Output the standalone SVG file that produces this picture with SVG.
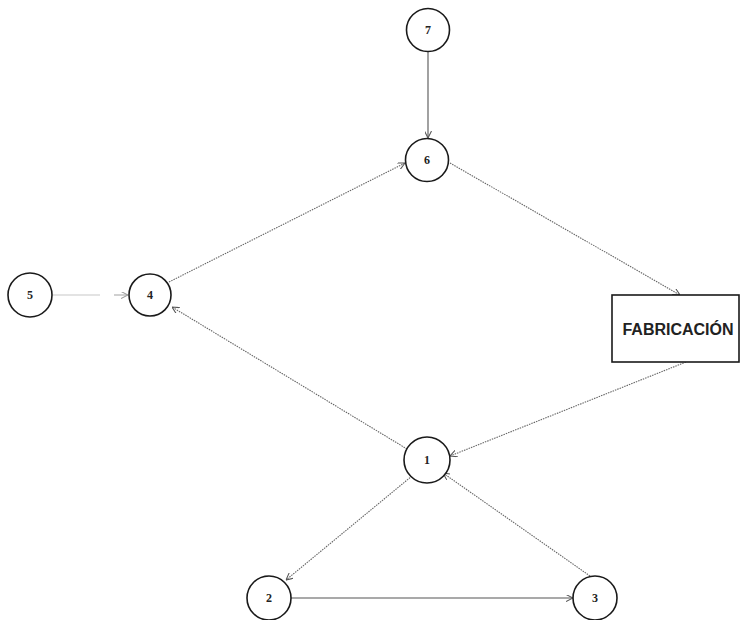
<svg xmlns="http://www.w3.org/2000/svg" width="741" height="620" viewBox="0 0 741 620">
<style>
.node circle{fill:#fff;stroke:#1a1a1a;stroke-width:1.6}
.node text{font-family:"Liberation Serif",serif;font-weight:bold;font-size:12px;fill:#222;text-anchor:middle;dominant-baseline:central}
.box rect{fill:#fff;stroke:#1a1a1a;stroke-width:1.6}
.box text{font-family:"Liberation Sans",Arial,sans-serif;font-weight:bold;font-size:16px;fill:#222;text-anchor:middle;dominant-baseline:central}
.solid{stroke:#555;stroke-width:1.1;fill:none;marker-end:url(#arr)}
.dot{stroke:#666;stroke-width:1.1;stroke-dasharray:1.5 1;fill:none;marker-end:url(#arr)}
.light{stroke:#c8c8c8;stroke-width:1.2;fill:none}
</style>
<defs>
<marker id="arr" viewBox="0 0 10 10" refX="10" refY="5" markerWidth="7" markerHeight="7" markerUnits="userSpaceOnUse" orient="auto">
<path d="M0,0 L10,5 L0,10" fill="none" stroke="#555" stroke-width="1.5"/>
</marker>
<marker id="arrl" viewBox="0 0 10 10" refX="10" refY="5" markerWidth="7" markerHeight="7" markerUnits="userSpaceOnUse" orient="auto">
<path d="M0,0 L10,5 L0,10" fill="none" stroke="#999" stroke-width="1.5"/>
</marker>
</defs>
<rect width="741" height="620" fill="#fff"/>
<g id="connectors">
<line class="solid" x1="428" y1="52" x2="428" y2="138"/>
<line class="dot" x1="450" y1="163" x2="680" y2="295"/>
<line class="dot" x1="686" y1="362" x2="450" y2="456"/>
<line class="dot" x1="407" y1="449" x2="172" y2="307"/>
<line class="dot" x1="169" y1="282" x2="405" y2="163"/>
<line class="light" x1="53" y1="295" x2="100" y2="295"/>
<line stroke="#aaa" stroke-width="1.1" x1="114" y1="295" x2="128" y2="295" marker-end="url(#arrl)"/>
<line class="dot" x1="412" y1="476" x2="286" y2="580"/>
<line class="solid" x1="291" y1="598" x2="573" y2="598"/>
<line class="dot" x1="590" y1="576" x2="443" y2="473"/>
</g>
<g id="n7" class="node"><circle cx="428" cy="30" r="21.5"/><text x="428" y="30">7</text></g>
<g id="n6" class="node"><circle cx="427" cy="160" r="21.5"/><text x="427" y="160">6</text></g>
<g id="n5" class="node"><circle cx="30" cy="295" r="22"/><text x="30" y="295">5</text></g>
<g id="n4" class="node"><circle cx="150" cy="295" r="21"/><text x="150" y="295">4</text></g>
<g id="n1" class="node"><circle cx="427" cy="460" r="23"/><text x="427" y="460">1</text></g>
<g id="n2" class="node"><circle cx="269" cy="598" r="22"/><text x="269" y="598">2</text></g>
<g id="n3" class="node"><circle cx="595" cy="598" r="22"/><text x="595" y="598">3</text></g>
<g id="fabricacion" class="box"><rect x="612" y="295" width="127" height="67"/><text x="678" y="329">FABRICACIÓN</text></g>
</svg>
